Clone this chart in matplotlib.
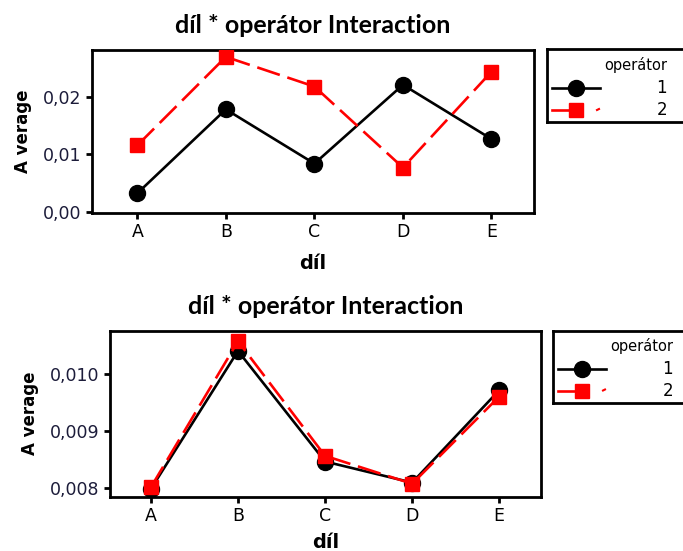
import matplotlib
matplotlib.use('Agg')
import matplotlib.pyplot as plt

plt.rcParams['font.family'] = ['DejaVu Sans']

# data
dil = ['A', 'B', 'C', 'D', 'E']
horni_op1 = [0.0032, 0.0179, 0.0084, 0.0222, 0.0127]
horni_op2 = [0.0116, 0.0271, 0.0219, 0.0077, 0.0245]
dolni_op1 = [0.00799, 0.01041, 0.00847, 0.00810, 0.00972]
dolni_op2 = [0.00802, 0.01058, 0.00857, 0.00808, 0.00961]
horni_ticks = [0.00, 0.01, 0.02]
horni_labels = ['0,00', '0,01', '0,02']
dolni_ticks = [0.008, 0.009, 0.010]
dolni_labels = ['0,008', '0,009', '0,010']
operatori = ['1', '2']

W, H = 683, 551
fig = plt.figure(figsize=(W / 100, H / 100), dpi=100)


def box(l, t, r, b):
    # pixel box -> figure fraction
    return [l / W, 1 - b / H, (r - l) / W, (b - t) / H]


def graf(rect, op1, op2, ticks, labels, ylim, xlim, xlab_pad):
    ax = fig.add_axes(rect)
    x = range(len(dil))
    ax.plot(x, op1, color='black', lw=1.9, marker='o', ms=11.5, zorder=3)
    ax.plot(x, op2, color='#ff0000', lw=1.9, marker='s', ms=9.5,
            dashes=(9, 3), zorder=4)
    ax.set_xlim(*xlim)
    ax.set_ylim(*ylim)
    ax.set_xticks(list(x))
    ax.set_xticklabels(dil, fontsize=12.5)
    ax.set_yticks(ticks)
    ax.set_yticklabels(labels, fontsize=12.5, color='#1c1c3a')
    for s in ax.spines.values():
        s.set_linewidth(2)
    ax.tick_params(width=2, length=4, direction='out')
    ax.set_title('díl * operátor Interaction', fontsize=18, fontweight='bold',
                 family=['Lato', 'DejaVu Sans'], pad=12)
    ax.set_xlabel('díl', fontsize=14, fontweight='bold', labelpad=xlab_pad)
    ax.set_ylabel('A verage', fontsize=12, fontweight='bold', labelpad=8)
    return ax


def legenda(l, t, b, dy):
    lg = fig.add_axes(box(l, t, l + 150, b))
    lg.set_xlim(0, 150)
    lg.set_ylim(b - t, 0)
    lg.set_xticks([])
    lg.set_yticks([])
    for s in lg.spines.values():
        s.set_linewidth(2)
    lg.text(120, 16 + dy, 'operátor', ha='right', va='center', fontsize=10.5)
    lg.plot([5, 53], [39 + dy, 39 + dy], color='black', lw=1.9)
    lg.plot([29], [39 + dy], color='black', marker='o', ms=11.5, ls='none')
    lg.plot([5, 26], [61 + dy, 61 + dy], color='#ff0000', lw=1.9)
    lg.plot([29], [61 + dy], color='#ff0000', marker='s', ms=9.5, ls='none')
    lg.plot([50, 52], [61 + dy, 60 + dy], color='#ff0000', lw=1.5)
    for i, op in enumerate(operatori):
        lg.text(120, 39 + dy + 22 * i, op, ha='right', va='center', fontsize=12)


graf(box(91.7, 50, 534, 212.7), horni_op1, horni_op2, horni_ticks, horni_labels,
     (-0.0002, 0.0283), (-0.515, 4.48), 9)
graf(box(110, 330.7, 541, 496.7), dolni_op1, dolni_op2, dolni_ticks, dolni_labels,
     (0.007853, 0.010765), (-0.47, 4.48), 6)

legenda(547, 49, 121.5, 0)
legenda(553, 330.5, 402.5, -1)

fig.savefig('out.png', dpi=100)
